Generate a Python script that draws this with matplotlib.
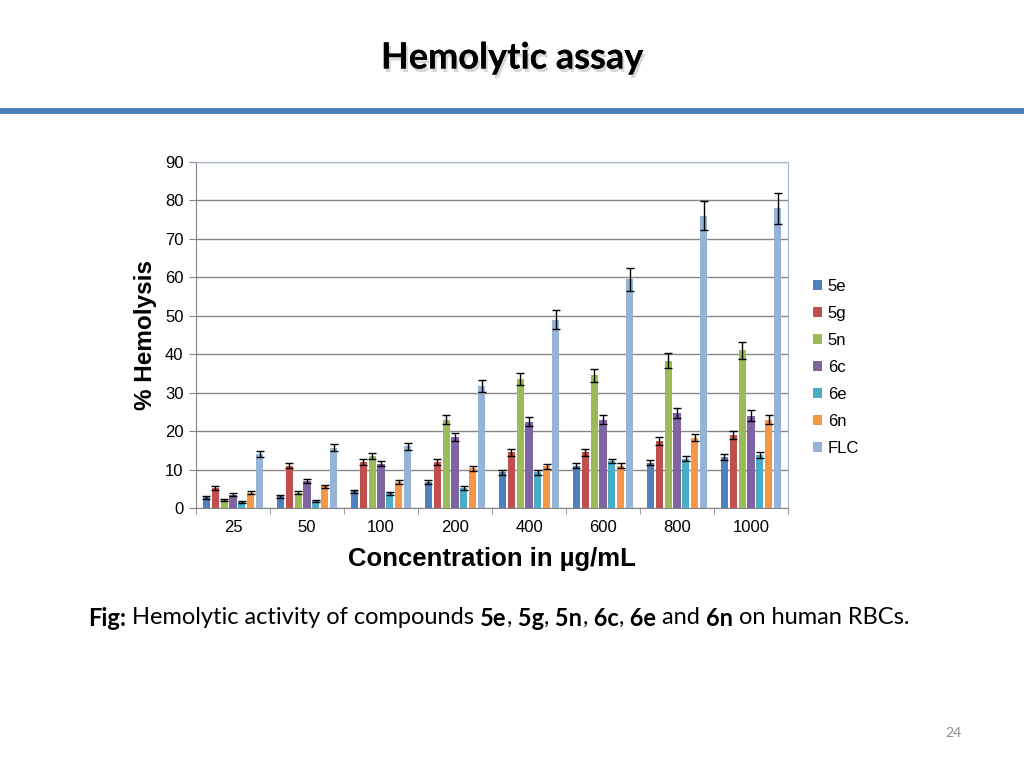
import matplotlib
matplotlib.use("Agg")
import matplotlib.pyplot as plt
import matplotlib.patheffects as pe
import numpy as np

concentrations = ["25", "50", "100", "200", "400", "600", "800", "1000"]
series_names = ["5e", "5g", "5n", "6c", "6e", "6n", "FLC"]
v_5e = [2.8, 3.0, 4.3, 6.7, 9.3, 11.0, 11.8, 13.2]
v_5g = [5.2, 11.0, 12.0, 12.0, 14.5, 14.5, 17.5, 19.0]
v_5n = [2.0, 4.0, 13.5, 23.0, 33.5, 34.5, 38.3, 41.0]
v_6c = [3.5, 7.0, 11.5, 18.5, 22.5, 23.0, 24.8, 24.0]
v_6e = [1.5, 1.8, 3.8, 5.2, 9.3, 12.2, 12.8, 13.8]
v_6n = [4.0, 5.7, 6.8, 10.3, 10.8, 11.0, 18.3, 23.0]
v_flc = [14.0, 15.7, 16.0, 31.8, 49.0, 59.5, 76.0, 78.0]
e_5e = [0.4, 0.4, 0.4, 0.5, 0.6, 0.7, 0.7, 0.8]
e_5g = [0.5, 0.7, 0.8, 0.8, 0.9, 0.9, 1.0, 1.0]
e_5n = [0.3, 0.4, 0.8, 1.2, 1.6, 1.7, 1.9, 2.2]
e_6c = [0.3, 0.5, 0.7, 1.0, 1.1, 1.2, 1.3, 1.4]
e_6e = [0.2, 0.2, 0.3, 0.4, 0.6, 0.6, 0.7, 0.7]
e_6n = [0.4, 0.4, 0.5, 0.6, 0.7, 0.7, 0.9, 1.2]
e_flc = [0.8, 0.9, 1.0, 1.6, 2.5, 3.0, 3.8, 4.0]

values = [v_5e, v_5g, v_5n, v_6c, v_6e, v_6n, v_flc]
errors = [e_5e, e_5g, e_5n, e_6c, e_6e, e_6n, e_flc]
colors = ["#4F81BD", "#C0504D", "#9BBB59", "#8064A2", "#4BACC6", "#F79646", "#95B3D7"]

AR = ["Liberation Sans", "DejaVu Sans"]
CAL = ["Lato", "DejaVu Sans"]

fig = plt.figure(figsize=(10.24, 7.68), dpi=100)
fig.patch.set_facecolor("white")

# Title
t = fig.text(0.5, 1 - 58 / 768, "Hemolytic assay", ha="center", va="center",
             fontsize=26, fontweight="bold", family=CAL, color="black")
t.set_path_effects([pe.withSimplePatchShadow(offset=(1.5, -2.5), shadow_rgbFace="#b0b0b0", alpha=0.5),
                    pe.Normal()])

# Blue rule
fig.add_artist(plt.Line2D([0, 1], [1 - 110.5 / 768, 1 - 110.5 / 768], color="#4A7EBB", lw=4.2,
                          transform=fig.transFigure))

ax = fig.add_axes([196 / 1024, 1 - 508 / 768, (788 - 196) / 1024, (508 - 162) / 768])

n = len(concentrations)
x = np.arange(n)
slot = 0.12
width = 0.095
for i, (name, vals, errs, c) in enumerate(zip(series_names, values, errors, colors)):
    offs = (i - 3) * slot
    ax.bar(x + offs, vals, width=width, color=c, label=name, zorder=3)
    ax.errorbar(x + offs, vals, yerr=errs, fmt="none", ecolor="black", elinewidth=1,
                capsize=3.2, capthick=1, zorder=4)

ax.set_xlim(-0.5, n - 0.5)
ax.set_ylim(0, 90)
ax.set_yticks(np.arange(0, 91, 10))
ax.yaxis.grid(True, color="#868686", lw=1, zorder=0)
ax.set_axisbelow(True)
ax.set_xticks(x)
ax.set_xticklabels(concentrations)
ax.set_xticks(np.arange(-0.5, n, 1), minor=True)
ax.tick_params(axis="x", which="major", length=0, pad=9, labelsize=12)
ax.tick_params(axis="x", which="minor", length=4, color="#868686", direction="out")
ax.tick_params(axis="y", length=5, color="#868686", labelsize=12, pad=4)
for lab in ax.get_xticklabels() + ax.get_yticklabels():
    lab.set_family(AR)
for s in ["left", "bottom"]:
    ax.spines[s].set_color("#868686")
for s in ["top", "right"]:
    ax.spines[s].set_color("#A6B7D2")

ax.set_ylabel("% Hemolysis", fontsize=17.5, fontweight="bold", family=AR, labelpad=6)
ax.set_xlabel("Concentration in µg/mL", fontsize=18.5, fontweight="bold", family=AR, labelpad=8)

leg = ax.legend(loc="center left", bbox_to_anchor=(1.042, 0.4075), frameon=False,
                handlelength=0.55, handleheight=0.55, handletextpad=0.35, labelspacing=0.72,
                borderpad=0, borderaxespad=0, prop={"family": AR, "size": 12})

# Caption
fs = 17
cap_y = 1 - 618 / 768
parts = [("Fig:", "bold"), (" Hemolytic activity of compounds ", "normal"), ("5e", "bold"), (",", "normal"),
         (" 5g", "bold"), (",", "normal"), (" 5n", "bold"), (",", "normal"), (" 6c", "bold"), (",", "normal"),
         (" 6e", "bold"), (" and ", "normal"), ("6n", "bold"), (" on human RBCs.", "normal")]
fig.canvas.draw()
renderer = fig.canvas.get_renderer()
xpos = 88 / 1024
for txt, w in parts:
    tt = fig.text(xpos, cap_y, txt, ha="left", va="center", fontsize=fs, fontweight=w, family=CAL)
    bb = tt.get_window_extent(renderer=renderer)
    xpos += bb.width / fig.bbox.width

fig.text(953 / 1024, 1 - 733 / 768, "24", ha="center", va="center", fontsize=10, color="#8C8C8C",
         family=CAL)

fig.savefig("out.png", dpi=100)
